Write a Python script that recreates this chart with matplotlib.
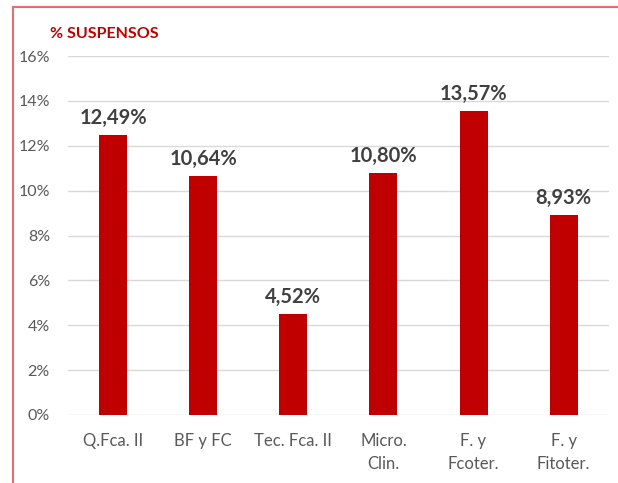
import matplotlib
matplotlib.use("Agg")
import matplotlib.pyplot as plt
from matplotlib.patches import Rectangle
from matplotlib.ticker import FuncFormatter

categories = ["Q.Fca. II", "BF y FC", "Tec. Fca. II", "Micro.\nClin.", "F. y\nFcoter.", "F. y\nFitoter."]
values = [12.49, 10.64, 4.52, 10.80, 13.57, 8.93]
value_labels = ["12,49%", "10,64%", "4,52%", "10,80%", "13,57%", "8,93%"]
yticks = [0, 2, 4, 6, 8, 10, 12, 14, 16]

plt.rcParams['font.family'] = ['Lato', 'DejaVu Sans']

fig = plt.figure(figsize=(6.18, 4.83), dpi=100)
ax = fig.add_axes([0.110, 0.1408, 0.875, 0.7432])

x = list(range(len(categories)))
bars = ax.bar(x, values, width=0.31, color="#c00000", zorder=3)

for xi, v, lab in zip(x, values, value_labels):
    ax.annotate(lab, (xi, v), xytext=(0, 5), textcoords="offset points",
                ha="center", va="bottom", fontsize=14.5, fontweight="bold",
                color="#404040")

ax.set_xlim(-0.5, len(categories) - 0.5)
ax.set_ylim(0, 16)
ax.set_yticks(yticks)
ax.yaxis.set_major_formatter(FuncFormatter(lambda v, p: f"{int(v)}%"))
ax.set_xticks(x)
ax.set_xticklabels(categories, linespacing=1.5)
ax.tick_params(axis="y", length=0, pad=13, labelsize=11.5, labelcolor="#595959")
ax.tick_params(axis="x", length=0, pad=13, labelsize=12, labelcolor="#595959")
ax.grid(axis="y", color="#d9d9d9", linewidth=1, zorder=0)
for s in ax.spines.values():
    s.set_visible(False)

fig.text(50 / 618, 1 - 34 / 483, "% SUSPENSOS", color="#c00000", fontsize=11.5,
         fontweight="bold", ha="left", va="center")

frame = Rectangle((12.5 / 618, -0.1), 1.2, 1 - 7.5 / 483 + 0.1, transform=fig.transFigure,
                  fill=False, edgecolor="#e07070", linewidth=1.5, clip_on=False)
fig.patches.append(frame)

fig.savefig("out.png", dpi=100)
